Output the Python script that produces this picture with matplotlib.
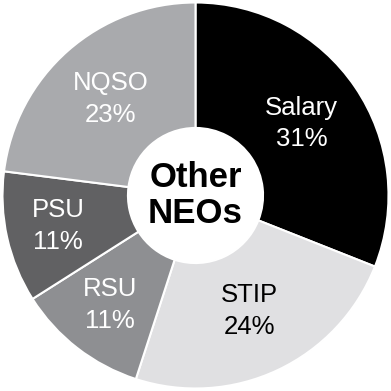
import numpy as np
import matplotlib.pyplot as plt

plt.rcParams['font.family'] = ['Liberation Sans', 'DejaVu Sans']

labels = ["Salary", "STIP", "RSU", "PSU", "NQSO"]
shares = [31, 24, 11, 11, 23]
colors = ["#000000", "#e0e0e2", "#8e8f92", "#616163", "#a9aaad"]
text_colors = ["white", "black", "white", "white", "white"]
label_r = [0.665, 0.66, 0.72, 0.73, 0.665]

fig = plt.figure(figsize=(3.91, 3.91), dpi=100)
ax = fig.add_axes([0, 0, 1, 1])
wedges, _ = ax.pie(shares, colors=colors, startangle=90, counterclock=False,
                   radius=1.0,
                   wedgeprops=dict(width=0.65, edgecolor="white", linewidth=1.5))

for w, lab, val, tc, r in zip(wedges, labels, shares, text_colors, label_r):
    ang = np.deg2rad((w.theta1 + w.theta2) / 2)
    ax.text(r * np.cos(ang), r * np.sin(ang), f"{lab}\n{val}%",
            ha="center", va="center", fontsize=18.5, color=tc, linespacing=1.4)

ax.text(0, 0, "Other\nNEOs", ha="center", va="center", fontsize=25,
        fontweight="bold", color="black", linespacing=1.15)

ax.set_xlim(-1.013, 1.013)
ax.set_ylim(-1.013, 1.013)
ax.set_aspect("equal")
ax.axis("off")
fig.savefig("out.png", dpi=100, facecolor="white")
